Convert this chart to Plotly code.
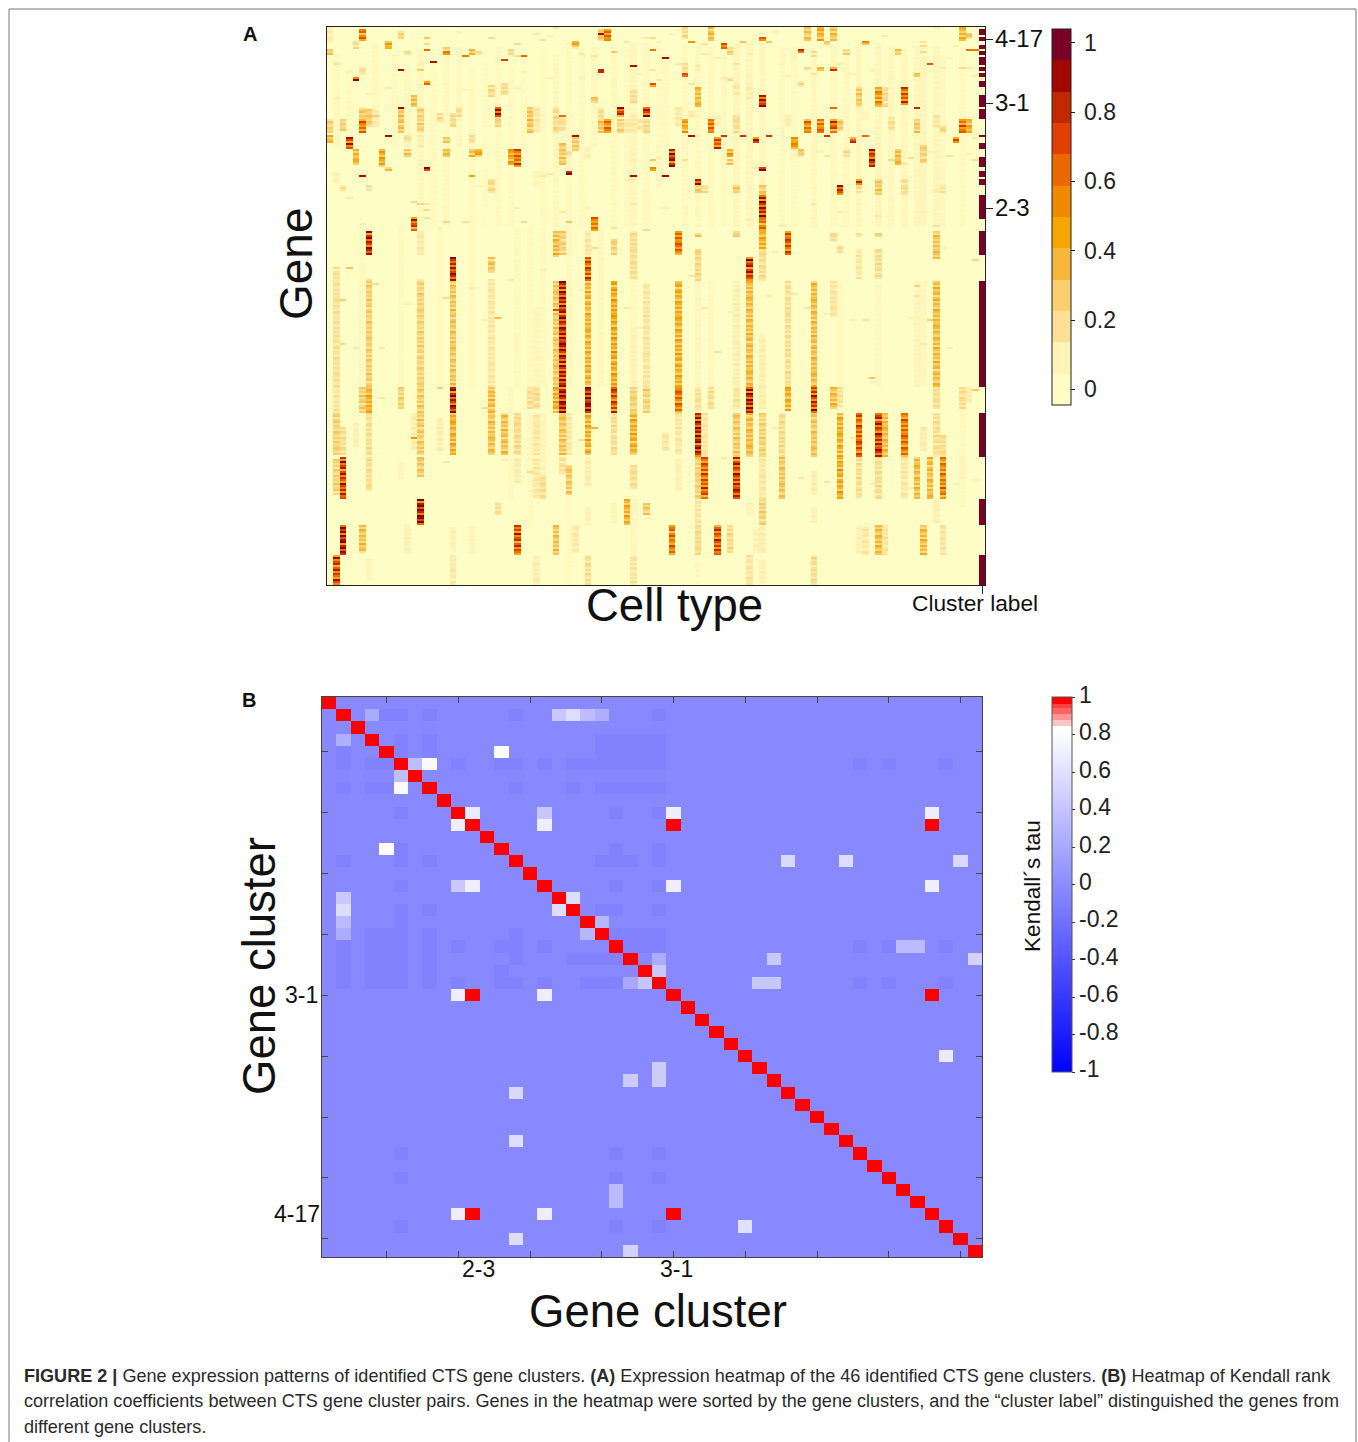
import plotly.graph_objects as go

W, H = 1358, 1442
N_GENES, N_TYPES, N_CLUSTERS = 279, 102, 46
FONT = "Liberation Sans"

# ---------- Panel A: expression blocks (cell type, first gene, end gene, level) ----------
expr_top = [
 (5,1,7,.6),(43,1,7,.62),(42,1,7,.28),(0,0,8,.12),(9,7,11,.45),(38,7,9,.5),(38,9,11,.28),(4,7,11,.2),
 (0,11,14,.32),(18,12,14,.6),(18,10,12,.25),(22,11,14,.36),(23,12,14,.22),(28,11,14,.22),(11,2,6,.25),
 (55,0,6,.22),(59,0,7,.36),(74,0,7,.32),(76,0,7,.42),(78,0,7,.34),(98,0,7,.38),(99,3,6,.3),(67,5,7,.62),
 (61,8,11,.65),(62,10,14,.25),(73,11,13,.8),(80,11,14,.26),(88,11,14,.3),(77,7,9,.36),(12,12,14,.2),
 (55,18,23,.2),(55,23,25,.62),(78,20,22,.66),(76,20,22,.34),(74,20,22,.2),(57,19,22,.12),(91,23,25,.34),
 (4,25,27,.86),(15,27,29,.62),(50,28,30,.6),(25,29,35,.22),(27,28,34,.22),(13,34,40,.36),(41,35,38,.3),
 (47,31,38,.2),(5,20,24,.2),(62,25,27,.2),(73,27,30,.2),(63,28,34,.14),(65,28,36,.12),
]
expr_upper = [
 (11,41,53,.32),(5,40,46,.3),(5,46,53,.62),(6,41,50,.28),(7,41,50,.14),(26,40,45,.86),(26,45,50,.25),
 (31,40,53,.32),(32,40,53,.14),(42,40,46,.2),(42,46,53,.32),(43,46,53,.6),(45,40,45,.76),(45,46,53,.25),
 (49,40,45,.86),(49,46,53,.22),(35,40,53,.22),(36,44,52,.18),(14,40,53,.26),(19,43,50,.22),(17,43,48,.2),
 (20,40,45,.2),(0,46,53,.26),(2,46,52,.26),(46,46,53,.14),(47,44,53,.14),(48,46,52,.15),
 (54,40,50,.14),(55,46,53,.46),(59,46,53,.64),(63,44,53,.2),(74,46,53,.58),(76,46,53,.6),(78,46,53,.68),
 (79,46,52,.3),(87,45,52,.2),(91,46,53,.3),(94,44,50,.16),(95,49,53,.24),(98,46,53,.62),(99,46,53,.42),
 (57,30,40,.36),(67,34,40,.82),(82,30,40,.3),(85,30,40,.52),(86,30,40,.2),(89,30,39,.68),(60,44,50,.1),
 (71,44,50,.12),(56,42,46,.14),(83,42,46,.08),
]
expr_middle = [
 (38,55,62,.3),(3,55,61,.72),(0,54,58,.36),(18,55,58,.3),(12,54,58,.2),(22,54,58,.2),(14,54,60,.12),
 (4,61,69,.38),(8,61,70,.46),(12,61,65,.3),(18,61,65,.36),(22,61,65,.36),(23,61,65,.46),(28,61,69,.46),
 (29,61,70,.64),(36,58,69,.3),(37,62,65,.2),(40,60,66,.1),(47,62,68,.1),
 (60,55,61,.68),(66,55,58,.78),(72,55,61,.5),(81,55,58,.72),(97,55,58,.66),(53,61,70,.86),(62,61,65,.48),
 (62,66,69,.3),(73,61,65,.3),(84,61,70,.82),(88,61,69,.36),(92,59,68,.26),(80,61,65,.2),(72,61,66,.08),
 (9,70,72,.42),(15,70,72,.88),(50,70,72,.46),(37,72,74,.88),(67,70,72,.96),(57,76,79,.84),(57,79,83,.3),
 (58,79,83,.2),(82,76,79,.68),(82,79,83,.2),(85,76,84,.3),(89,76,84,.2),(63,79,83,.3),(79,79,84,.82),
 (25,76,83,.22),(94,79,83,.12),(95,79,83,.16),(1,72,78,.1),(2,79,82,.18),(6,79,82,.14),(32,72,80,.08),
 (67,79,84,.3),(67,84,96,.84),(67,96,102,.58),(13,95,102,.72),(41,95,102,.58),
]
expr_lower = [
 (6,102,114,.86),(19,115,127,.8),(40,115,127,.7),(25,115,123,.32),(35,102,115,.36),(36,102,114,.26),
 (44,106,114,.26),(47,102,126,.2),(40,102,114,.16),(1,120,180,.18),(14,102,114,.14),(54,102,114,.62),
 (57,103,105,.3),(57,111,127,.24),(63,102,105,.26),(65,115,127,.8),(67,101,111,.42),(67,111,127,.2),
 (71,102,114,.68),(78,103,107,.2),(79,109,113,.2),(82,103,105,.2),(82,111,126,.15),(85,103,105,.26),
 (85,111,126,.2),(94,102,116,.32),
 (36,127,180,.86),(35,127,180,.3),(40,127,180,.4),(44,127,180,.46),(19,127,180,.32),(6,126,180,.28),
 (14,126,180,.26),(25,126,180,.15),(49,128,180,.16),(54,127,180,.42),(65,127,180,.36),(71,127,180,.2),
 (75,127,180,.36),(78,127,145,.16),(94,127,180,.36),(63,127,180,.11),(67,154,180,.11),(32,140,180,.07),
 (47,150,180,.09),
]
expr_bottom = [
 (6,180,193,.42),(5,180,193,.28),(11,180,191,.26),(14,180,193,.3),(19,180,193,.88),(25,180,193,.36),
 (31,180,191,.2),(32,180,191,.2),(35,180,193,.42),(36,180,193,.92),(40,180,193,.88),(44,180,193,.72),
 (47,180,193,.26),(49,180,193,.26),(1,180,193,.16),(54,180,193,.62),(57,180,192,.18),(59,180,191,.2),
 (65,180,193,.88),(71,180,192,.42),(75,180,193,.78),(78,180,191,.36),(79,180,190,.18),(94,180,191,.2),
 (98,180,191,.2),(99,180,188,.12),(63,180,191,.16),(67,180,191,.12),
 (1,193,214,.26),(2,200,214,.2),(14,193,214,.3),(19,193,214,.42),(25,193,214,.34),(27,193,214,.34),
 (29,193,214,.22),(32,193,214,.15),(36,193,214,.32),(37,193,214,.15),(40,193,214,.42),(44,193,214,.2),
 (47,193,214,.42),(6,193,214,.2),(13,193,212,.12),(17,195,212,.12),(4,198,210,.1),
 (52,203,212,.15),(54,193,214,.15),(57,193,215,.88),(58,193,215,.15),(63,193,215,.3),(65,193,215,.36),
 (67,193,215,.26),(70,193,215,.22),(75,193,215,.32),(79,193,215,.42),(82,193,215,.68),(85,193,215,.78),
 (86,193,215,.36),(89,193,215,.62),(92,200,212,.12),(94,193,215,.2),(95,204,215,.2),
 (2,215,236,.78),(1,216,234,.26),(14,215,225,.3),(6,215,232,.2),(37,219,234,.3),(47,219,231,.2),
 (33,224,236,.2),(32,215,236,.15),(29,215,228,.12),(36,215,224,.18),(40,215,230,.12),(11,218,226,.08),
 (58,215,236,.68),(57,215,236,.26),(63,215,236,.78),(67,215,236,.15),(70,215,236,.32),(79,215,236,.44),
 (82,215,236,.2),(85,215,236,.2),(89,215,236,.15),(91,215,236,.36),(93,215,236,.36),(95,215,236,.58),
 (54,216,232,.1),(75,222,234,.12),(98,215,226,.08),
 (14,236,249,.96),(46,236,249,.42),(49,238,244,.3),(26,238,244,.2),(40,240,249,.1),(44,238,248,.08),
 (57,236,249,.16),(67,236,249,.26),(94,236,248,.1),(65,238,245,.08),(75,240,248,.1),
 (2,249,264,.92),(5,249,263,.34),(29,249,264,.72),(35,249,264,.32),(38,249,263,.14),(12,249,263,.1),
 (22,250,263,.08),(19,250,262,.1),(53,249,264,.62),(60,249,264,.72),(62,249,263,.22),(57,249,264,.22),
 (82,249,263,.1),(83,250,264,.14),(85,249,264,.36),(86,249,264,.16),(92,249,264,.36),(95,249,264,.16),
 (67,250,263,.12),(66,251,263,.1),
 (1,264,279,.74),(32,264,279,.12),(40,264,279,.2),(19,264,279,.14),(47,264,279,.16),(6,266,277,.08),
 (65,264,279,.16),(75,264,279,.2),(67,266,278,.1),(57,268,275,.06),
]

# Faint column tints visible through the whole gene range (cell type, first gene, end gene, level)
expr_tints = [
 (1,14,60,.05),(3,20,60,.04),(7,8,50,.05),(10,14,60,.04),(12,20,60,.05),(14,10,100,.05),(16,20,100,.04),
 (18,14,100,.05),(20,10,60,.05),(22,20,100,.05),(24,10,100,.03),(26,10,100,.05),(28,20,100,.04),(30,10,60,.04),
 (33,10,100,.04),(35,14,100,.06),(37,10,100,.05),(39,10,100,.05),(41,10,60,.05),(44,10,100,.06),(46,10,100,.04),
 (47,8,100,.07),(49,8,100,.05),(51,10,80,.04),(52,14,60,.05),(55,8,100,.05),(57,8,100,.06),(59,10,100,.05),
 (61,14,100,.05),(63,8,100,.07),(65,8,100,.07),(67,8,100,.06),(70,10,100,.05),(72,10,100,.04),(75,10,100,.06),
 (78,10,100,.05),(80,14,100,.05),(82,8,100,.06),(85,8,100,.07),(87,10,100,.05),(89,10,100,.06),(91,10,100,.07),
 (92,8,100,.07),(94,10,100,.07),(95,14,100,.05),(98,14,100,.04),(5,100,180,.04),(11,100,180,.05),(17,100,180,.05),
 (22,100,180,.04),(29,100,180,.05),(31,100,180,.04),(33,100,180,.05),(37,100,180,.05),
 (42,100,180,.06),(47,127,150,.05),(57,127,180,.07),(59,127,180,.05),(79,127,180,.05),(85,127,180,.05),(91,127,180,.08),
 (92,127,180,.06),(98,180,240,.05),(28,180,236,.05),(31,193,250,.05),(33,193,225,.08),(37,236,279,.04),(47,236,279,.06),
]

# Per-gene variation seen inside the blocks (read along the column at x = 561 px)
row_variation = [1.0,.72,1.1,.85,.6,1.15,.95,.7,1.05,.55,1.2,.9,.65,1.1,.8,1.0,.6,1.25,.75,
                 .95,1.1,.5,.9,1.15,.7,1.0,.85,.6,1.2,.95,.75,1.05,.65,1.1,.8,.9,1.15]

# Single-gene hits (cell type, gene, level)
expr_spots = [
 (11,40,.9),(42,3,.88),(42,4,.3),(16,17,.88),(27,16,.72),(30,14,.62),(21,14,.58),(11,21,.88),(42,21,.82),(42,22,.8),
 (47,19,.88),(5,74,.88),(47,74,.88),(22,74,.46),(9,54,.88),(38,54,.88),(52,15,.88),(93,18,.66),(56,54,.88),(61,54,.76),
 (64,54,.76),(68,54,.76),(83,54,.62),(77,54,.76),(52,74,.92),(91,40,.82),(78,40,.62),(83,7,.55),(64,7,.32),(56,7,.5),
 (15,11,.62),(3,55,.9),(73,11,.82),(50,11,.6),(36,44,.62),(99,11,.6),(83,8,.32),(7,44,.28),
 (66,70,.14),(15,5,.3),(15,8,.22),(20,2,.12),(25,5,.2),(33,6,.18),(35,0,.16),(32,3,.14),(3,22,.1),(1,18,.18),(1,35,.12),
 (6,33,.12),(9,30,.14),(14,21,.28),(14,18,.1),(18,28,.08),(21,31,.08),(24,36,.06),(29,30,.12),(29,8,.2),(29,14,.2),
 (30,22,.1),(34,25,.1),(34,4,.12),(37,8,.1),(39,25,.12),(39,13,.14),(41,14,.16),(44,12,.3),(44,26,.08),(46,7,.14),(48,23,.1),
 (49,5,.14),(50,5,.2),(50,21,.14),(51,7,.1),(51,26,.14),(53,3,.1),(54,1,.1),(54,18,.14),(56,28,.14),
 (58,8,.16),(58,13,.14),(60,15,.12),(61,25,.14),(63,18,.16),(63,30,.14),(65,13,.12),(68,7,.3),(69,2,.12),(70,18,.08),
 (71,24,.12),(72,15,.1),(75,12,.2),(75,14,.22),(75,23,.16),(79,18,.14),(81,23,.1),(84,21,.12),(86,4,.14),(87,25,.1),
 (92,9,.2),(92,12,.2),(92,7,.16),(95,20,.14),(96,15,.08),(94,0,.12),(97,9,.1),(100,11,.6),(100,24,.12),(98,20,.2),(99,20,.14),
 (3,85,.14),(6,79,.2),(13,87,.2),(14,88,.24),(15,88,.16),(15,91,.22),(15,95,.18),(17,100,.1),(18,97,.24),(21,97,.18),
 (30,97,.2),(37,97,.3),(36,92,.14),(40,90,.1),(44,100,.18),(47,88,.14),(49,101,.2),(5,98,.12),(29,90,.12),(23,79,.1),
 (52,90,.12),(55,90,.08),(65,96,.12),(70,99,.14),(75,88,.14),(75,95,.1),(79,92,.14),(85,94,.14),(92,92,.12),(94,99,.18),
 (100,66,.18),(100,55,.14),(99,63,.12),(96,64,.16),(93,62,.1),(87,66,.22),(90,65,.2),(89,68,.14),(76,62,.12),(77,64,.16),
 (55,66,.2),(50,66,.3),(51,65,.12),(33,74,.16),(34,73,.14),(44,73,.1),(46,76,.1),(47,76,.12),
 (3,120,.3),(4,160,.14),(2,136,.26),(7,128,.2),(8,160,.14),(18,135,.2),(12,138,.12),(26,145,.36),(28,126,.14),(35,141,.7),
 (22,130,.14),(24,146,.12),(33,121,.12),(39,131,.1),(41,110,.2),(45,132,.1),(46,140,.14),(48,150,.1),(56,124,.14),(58,140,.14),
 (60,162,.18),(62,142,.1),(68,134,.14),(69,112,.12),(72,133,.14),(74,140,.16),(77,143,.12),(81,146,.12),(83,146,.18),(84,175,.3),
 (90,145,.1),(92,158,.14),(95,110,.1),(96,160,.12),(100,116,.22),(100,181,.3),(91,129,.24),(91,134,.16),(93,146,.26),
 (2,158,.22),(8,185,.14),(17,180,.26),(13,205,.5),(18,217,.14),(24,190,.2),(27,216,.12),(31,222,.22),(39,206,.2),(41,200,.38),
 (61,215,.14),(69,200,.12),(73,225,.14),(77,227,.16),(81,205,.14),(84,228,.12),(90,230,.1),(97,228,.1),(100,226,.1),
]

cluster_label_start = [1,5,9,12,15,16,18,20,23,27,34,41,54,58,65,72,76,84,102,127,193,236,264]
cluster_label_end   = [4,7,11,14,16,18,19,22,25,30,40,46,55,61,70,75,79,96,114,180,215,249,279]

gene_tick_rows = [5.5, 37.5, 90]
gene_tick_text = ["4-17", "3-1", "2-3"]

expr_colors = ["#FFFDC6","#FFF3B6","#FCE096","#F9CF70","#F6B83C","#F5A700",
               "#F18A00","#EC6800","#E23F00","#C22800","#A00700","#7A0028"]
expr_tick_vals = [0, .2, .4, .6, .8, 1]
expr_tick_text = ["0", "0.2", "0.4", "0.6", "0.8", "1"]

# ---------- Panel B: Kendall's tau (row, column, tau), 0-based clusters ----------
tau_base = -0.03
tau_shaded = -0.07
tau_high = [
 (1,3,.21),(1,16,.43),(1,17,.58),(1,18,.35),(1,19,.25),(3,1,.25),(4,12,.8),(5,6,.35),(5,7,.78),(6,5,.35),(7,5,.78),
 (9,10,.68),(9,15,.42),(9,24,.7),(9,42,.7),(10,9,.7),(10,15,.7),(10,24,1),(10,42,1),(12,4,.8),(13,32,.55),(13,36,.58),
 (13,44,.55),(15,9,.43),(15,10,.7),(15,24,.7),(15,42,.7),(16,1,.43),(16,17,.58),(17,1,.58),(17,16,.58),(18,1,.33),
 (18,19,.3),(19,1,.22),(19,18,.3),(20,40,.33),(20,41,.33),(21,23,.22),(21,31,.43),(21,45,.5),(22,23,.43),(23,21,.2),
 (23,22,.4),(23,30,.42),(23,31,.42),(24,9,.7),(24,10,1),(24,15,.7),(24,42,1),(29,43,.68),(31,21,.45),(30,23,.45),
 (31,23,.45),(32,13,.55),(36,13,.58),(40,20,.33),(41,20,.33),(42,9,.7),(42,10,1),(42,15,.7),(42,24,1),(43,29,.6),
 (44,13,.58),(45,21,.5),
]
tau_low_rows = {
 1:[4,5,7,13,23],3:[5,7,19,20,21,22,23],4:[1,5,7,19,20,21,22,23],
 5:[1,3,4,9,12,13,15,17,18,19,20,21,22,23,37,39,43],7:[1,3,4,13,17,19,20,21,22,23],
 9:[5,20,23],12:[5,20,23],13:[1,5,7,19,20,21,23],15:[5,20,23],17:[5,7,19,20,23],18:[1,5],
 19:[1,3,4,5,7,13,20,21,22,23],20:[1,3,4,5,7,9,12,13,15,20,21,22,23,37,39,43],
 21:[1,3,4,5,7,13,17,18,19,20],22:[1,3,4,5,7,12],23:[1,3,4,5,7,9,12,13,15,18,19,20,37,39,43],
 37:[5,20,23],39:[5,20,23],43:[5,20,23],
}
tau_tick_positions = [5,10,15,20,25,30,35,40,45]
tau_cb_vals = [1,.8,.6,.4,.2,0,-.2,-.4,-.6,-.8,-1]
tau_cb_text = ["1","0.8","0.6","0.4","0.2","0","-0.2","-0.4","-0.6","-0.8","-1"]

caption_lines = [
 "<b>FIGURE 2 |</b> Gene expression patterns of identified CTS gene clusters. <b>(A)</b> Expression heatmap of the 46 identified CTS gene clusters. <b>(B)</b> Heatmap of Kendall rank",
 "correlation coefficients between CTS gene cluster pairs. Genes in the heatmap were sorted by the gene clusters, and the “cluster label” distinguished the genes from",
 "different gene clusters.",
]

# ---------- Assemble matrices ----------
expr = [[0.0] * N_TYPES for _ in range(N_GENES)]
for block in (expr_top, expr_upper, expr_middle, expr_lower, expr_bottom, expr_tints):
    for c, r0, r1, v in block:
        for r in range(r0, min(r1, N_GENES)):
            val = min(1.0, v * row_variation[(r + c * 11) % len(row_variation)])
            expr[r][c] = max(expr[r][c], val)
for c, r, v in expr_spots:
    expr[r][c] = max(expr[r][c], v)
for a, b in zip(cluster_label_start, cluster_label_end):
    for r in range(a, b):
        expr[r][N_TYPES - 1] = 1.0

tau = [[tau_base] * N_CLUSTERS for _ in range(N_CLUSTERS)]
for r, cols in tau_low_rows.items():
    for c in cols:
        tau[r][c] = tau_shaded
for r, c, v in tau_high:
    tau[r][c] = v
for i in range(N_CLUSTERS):
    tau[i][i] = 1.0

# ---------- Scales ----------
EXPR_MIN, EXPR_MAX = -0.045, 1.04
n = len(expr_colors)
expr_steps = []
for i, col in enumerate(expr_colors):
    expr_steps += [[i / n, col], [(i + 1) / n, col]]
# The cells blend between the bands, the colour bar shows the bands themselves
expr_blend = [[0, expr_colors[0]]] + [[(i + .5) / n, col] for i, col in enumerate(expr_colors)] + [[1, expr_colors[-1]]]

def t(v):
    return (v + 1) / 2
tau_scale = [[0,"#0000FF"],[t(.82),"#FFFFFF"],[t(.845),"#FFFFFF"],[t(.846),"#FFC4C4"],[t(.875),"#FFC4C4"],
             [t(.876),"#FF9494"],[t(.907),"#FF9494"],[t(.908),"#FF6464"],[t(.94),"#FF6464"],
             [t(.941),"#FF4040"],[t(.964),"#FF4040"],[t(.965),"#FF0000"],[1,"#FF0000"]]

def px(x): return x / W
def py(y): return 1 - y / H

fig = go.Figure()
fig.add_trace(go.Heatmap(
    z=expr, x=list(range(N_TYPES)), y=list(range(N_GENES)), xaxis="x", yaxis="y",
    zmin=EXPR_MIN, zmax=EXPR_MAX, colorscale=expr_blend, showscale=False, hoverinfo="skip",
))
fig.add_trace(go.Scatter(
    x=[0], y=[0], xaxis="x", yaxis="y", mode="markers", hoverinfo="skip", showlegend=False,
    marker=dict(size=1, opacity=0, color=[0], cmin=EXPR_MIN, cmax=EXPR_MAX, colorscale=expr_steps, showscale=True,
                colorbar=dict(x=px(1052), xanchor="left", y=py(29), yanchor="top", thickness=19, thicknessmode="pixels",
                              len=376, lenmode="pixels", xpad=0, ypad=0, outlinecolor="#222", outlinewidth=1,
                              tickmode="array", tickvals=expr_tick_vals, ticktext=[""] * 6, ticks="outside", ticklen=4,
                              tickcolor="#222")),
))
fig.add_trace(go.Heatmap(
    z=tau, x=list(range(1, N_CLUSTERS + 1)), y=list(range(1, N_CLUSTERS + 1)), xaxis="x2", yaxis="y2",
    zmin=-1, zmax=1, colorscale=tau_scale, hoverinfo="skip",
    colorbar=dict(x=px(1052), xanchor="left", y=py(697), yanchor="top", thickness=20, thicknessmode="pixels",
                  len=375, lenmode="pixels", xpad=0, ypad=0, outlinecolor="#555", outlinewidth=1,
                  tickmode="array", tickvals=tau_cb_vals, ticktext=[""] * 11, ticks="outside", ticklen=3,
                  tickcolor="#333"),
))

def ann(text, x, y, size, anchor="center", angle=0, color="#111"):
    fig.add_annotation(text=text, x=px(x), y=py(y), xref="paper", yref="paper", showarrow=False,
                       xanchor=anchor, yanchor="middle", textangle=angle, borderpad=0, borderwidth=0,
                       font=dict(size=size, family=FONT, color=color))

ann("<b>A</b>", 250, 34, 20)
ann("<b>B</b>", 249, 700, 20)
ann("Gene", 296, 264, 46, angle=-90)
ann("Cell type", 674, 605, 45.5)
ann("Cluster label", 975, 603, 22.7)
ann("Gene cluster", 259, 966, 45.5, angle=-90)
ann("Gene cluster", 658, 1311, 45.5)
ann("2-3", 478, 1269, 23)
ann("3-1", 676, 1269, 23)
ann("3-1", 318, 995, 23, anchor="right")
ann("4-17", 320, 1214, 23, anchor="right")
ann("Kendall´s tau", 1033, 886, 22.6, angle=-90)
for text, row in zip(gene_tick_text, gene_tick_rows):
    ann(text, 995, 27 + 2 * row + 1, 24, anchor="left")
for text, v in zip(expr_tick_text, expr_tick_vals):
    ann(text, 1084, 43 + (1 - v) * 346, 23, anchor="left", color="#222")
for text, v in zip(tau_cb_text, tau_cb_vals):
    ann(text, 1079, 695 + (1 - v) * 187, 23, anchor="left", color="#222")
for line, y in zip(caption_lines, (1376, 1401, 1427)):
    ann(line, 24, y, 18.07, anchor="left", color="#2a2a2a")

fig.add_shape(type="path", xref="paper", yref="paper",
              path=f"M {px(9)} {py(1442)} L {px(9)} {py(9)} L {px(1356)} {py(9)} L {px(1356)} {py(1442)}",
              line=dict(color="#777", width=1))

fig.update_layout(
    width=W, height=H, margin=dict(l=0, r=0, t=0, b=0), paper_bgcolor="white", plot_bgcolor="white",
    showlegend=False,
    xaxis=dict(domain=[px(327), px(985)], range=[-0.5, N_TYPES - 0.5], tickmode="array", tickvals=[N_TYPES - 1.5 + 0.6],
               ticktext=[""], ticks="outside", ticklen=8, tickcolor="#333", showline=True, linecolor="#222",
               mirror=True, showgrid=False, zeroline=False),
    yaxis=dict(domain=[py(585), py(27)], range=[N_GENES - 0.5, -0.5], side="right", tickmode="array",
               tickvals=gene_tick_rows, ticktext=[""] * 3, ticks="outside", ticklen=7, tickcolor="#222",
               showline=True, linecolor="#222", mirror=True, showgrid=False, zeroline=False),
    xaxis2=dict(domain=[px(322), px(982)], range=[0.5, N_CLUSTERS + 0.5], anchor="y2", tickmode="array",
                tickvals=tau_tick_positions, ticktext=[""] * 9, ticks="inside", ticklen=6, tickcolor="#444",
                showline=True, linecolor="#444", mirror="ticks", showgrid=False, zeroline=False),
    yaxis2=dict(domain=[py(1257), py(697)], range=[N_CLUSTERS + 0.5, 0.5], anchor="x2", tickmode="array",
                tickvals=tau_tick_positions, ticktext=[""] * 9, ticks="inside", ticklen=6, tickcolor="#444",
                showline=True, linecolor="#444", mirror="ticks", showgrid=False, zeroline=False),
)

fig.write_html("out.html", config={"displayModeBar": False},
               post_script="document.body.style.margin='0';document.documentElement.style.overflow='hidden';")
